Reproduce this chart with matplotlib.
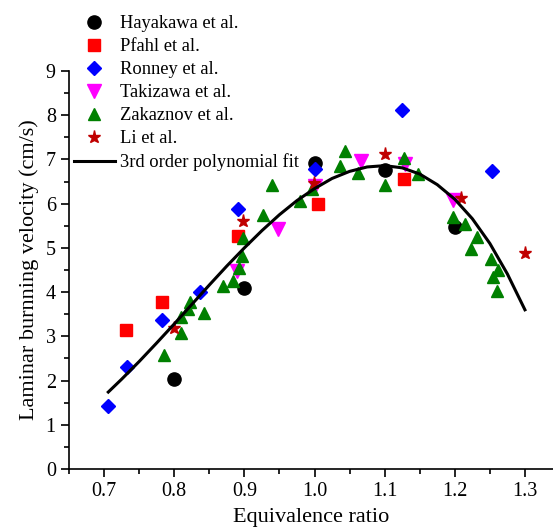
import numpy as np
import matplotlib.pyplot as plt
from matplotlib.ticker import MultipleLocator

# data
haya_x = [0.8, 0.9, 1.0, 1.1, 1.2]
haya_y = [2.04, 4.09, 6.92, 6.76, 5.47]

pfahl_x = [0.731, 0.783, 0.891, 1.005, 1.128]
pfahl_y = [3.14, 3.77, 5.26, 6.0, 6.56]

ronney_x = [0.706, 0.732, 0.782, 0.837, 0.891, 1.0, 1.125, 1.253]
ronney_y = [1.43, 2.31, 3.37, 4.01, 5.88, 6.78, 8.12, 6.74]

taki_x = [0.89, 0.948, 1.0, 1.066, 1.129, 1.197]
taki_y = [4.48, 5.42, 6.40, 6.96, 6.90, 6.08]

zak_x = [0.786, 0.809, 0.81, 0.819, 0.822, 0.842, 0.870, 0.884, 0.892, 0.897,
         0.898, 0.926, 0.939, 0.98, 0.997, 1.036, 1.044, 1.062, 1.1, 1.128,
         1.147, 1.197, 1.214, 1.231, 1.223, 1.251, 1.261, 1.255, 1.260]
zak_y = [2.57, 3.08, 3.44, 3.62, 3.77, 3.52, 4.13, 4.25, 4.54, 4.82,
         5.22, 5.75, 6.43, 6.07, 6.33, 6.86, 7.19, 6.69, 6.43, 7.03,
         6.67, 5.70, 5.53, 5.24, 4.97, 4.74, 4.50, 4.34, 4.02]

li_x = [0.8, 0.898, 0.999, 1.1, 1.209, 1.30]
li_y = [3.18, 5.60, 6.47, 7.13, 6.13, 4.88]

fit_x = [0.706, 0.725, 0.75, 0.775, 0.8, 0.825, 0.85, 0.875, 0.9, 0.925,
         0.95, 0.975, 1.0, 1.025, 1.05, 1.075, 1.1, 1.125, 1.15, 1.175,
         1.2, 1.225, 1.25, 1.275, 1.3]
fit_y = [1.74, 2.03, 2.43, 2.85, 3.28, 3.72, 4.16, 4.59, 5.00, 5.39,
         5.75, 6.07, 6.34, 6.57, 6.73, 6.83, 6.86, 6.81, 6.67, 6.43,
         6.10, 5.66, 5.10, 4.41, 3.60]

plt.rcParams.update({
    "font.family": "serif",
    "font.serif": ["Liberation Serif", "DejaVu Serif"],
    "mathtext.fontset": "stix",
})

fig = plt.figure(figsize=(5.53, 5.31), dpi=100)
ax = fig.add_axes([69/553, 1 - 469/531, 1 - 69/553, (469 - 71)/531])

ms = 9.5
ax.plot(haya_x, haya_y, 'o', color='black', ms=ms, ls='none', label='Hayakawa et al.')
ax.plot(pfahl_x, pfahl_y, 's', color='#ff0000', ms=ms - 1, ls='none', label='Pfahl et al.')
ax.plot(ronney_x, ronney_y, 'D', color='#0000ff', ms=ms - 2.5, ls='none', label='Ronney et al.')
ax.plot(taki_x, taki_y, 'v', color='#ff00ff', ms=ms + 1, ls='none', label='Takizawa et al.')
ax.plot(zak_x, zak_y, '^', color='#008000', ms=ms - 0.5, ls='none', label='Zakaznov et al.')
ax.plot(li_x, li_y, '*', color='#c00000', ms=ms, ls='none', label='Li et al.')
ax.plot(fit_x, fit_y, '-', color='black', lw=2.2, zorder=5, label='3rd order polynomial fit')

ax.set_xlim(0.65, 1.34)
ax.set_ylim(0, 9)
ax.xaxis.set_major_locator(MultipleLocator(0.1))
ax.xaxis.set_minor_locator(MultipleLocator(0.05))
ax.yaxis.set_major_locator(MultipleLocator(1))
ax.yaxis.set_minor_locator(MultipleLocator(0.5))
ax.xaxis.set_major_formatter(plt.FormatStrFormatter('%.1f'))

for s in ['top', 'right']:
    ax.spines[s].set_visible(False)
ax.spines['left'].set_linewidth(1.2)
ax.spines['bottom'].set_linewidth(1.2)

ax.tick_params(which='major', direction='out', length=6, width=1.2, labelsize=14.5)
ax.tick_params(which='minor', direction='out', length=3.5, width=1.2)

ax.set_xlabel('Equivalence ratio', fontsize=16, labelpad=5)
ax.set_ylabel('Laminar burnning velocity (cm/s)', fontsize=16, labelpad=5)

fig.legend(loc='upper left', bbox_to_anchor=(74/553, 1 - 15/531),
           frameon=False, fontsize=13.3, borderpad=0, borderaxespad=0,
           handlelength=2.2, handletextpad=0.3, labelspacing=0.33,
           numpoints=1)

plt.savefig("out.png", dpi=100)
